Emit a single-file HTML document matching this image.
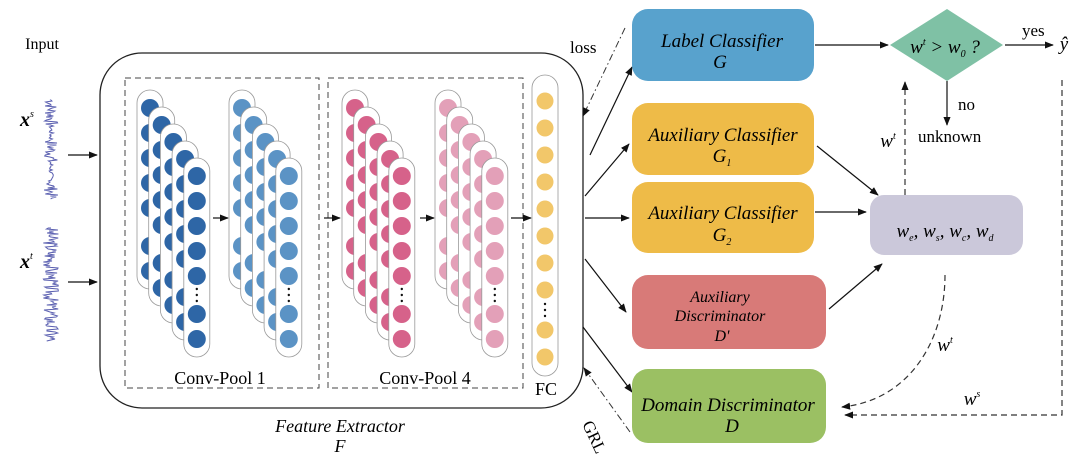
<!DOCTYPE html>
<html><head><meta charset="utf-8"><style>
html,body{margin:0;padding:0;background:#fff;}
svg{display:block;font-family:"Liberation Serif",serif;}
</style></head><body>
<svg id="s" width="1080" height="459" viewBox="0 0 1080 459" xmlns="http://www.w3.org/2000/svg">
<defs>
<marker id="a" viewBox="0 0 10 10" refX="9" refY="5" markerWidth="9" markerHeight="9" orient="auto" markerUnits="userSpaceOnUse"><path d="M0,1 L10,5 L0,9 z" fill="#111"/></marker>
</defs>
<rect x="100" y="53" width="483" height="355" rx="42" fill="none" stroke="#222" stroke-width="1.3"/>
<rect x="125" y="78" width="194" height="310" fill="none" stroke="#444" stroke-dasharray="6,4"/>
<rect x="328" y="78" width="195" height="310" fill="none" stroke="#444" stroke-dasharray="6,4"/>
<g id="caps"></g>
<text x="220" y="384" font-size="18" text-anchor="middle">Conv-Pool 1</text>
<text x="425" y="384" font-size="18" text-anchor="middle">Conv-Pool 4</text>
<text x="546" y="395" font-size="18" text-anchor="middle">FC</text>
<text x="340" y="432" font-size="18" font-style="italic" text-anchor="middle">Feature Extractor</text>
<text x="340" y="452" font-size="18" font-style="italic" text-anchor="middle">F</text>
<text x="42" y="49" font-size="16" text-anchor="middle">Input</text>
<text x="20" y="126" font-size="20" font-weight="bold" font-style="italic">x<tspan font-size="10" dy="-9" font-weight="normal">s</tspan></text>
<text x="20" y="268" font-size="20" font-weight="bold" font-style="italic">x<tspan font-size="10" dy="-9" font-weight="normal">t</tspan></text>
<g id="sig" stroke="#5a5fb0" stroke-width="1" fill="none"></g>
<g stroke="#111" stroke-width="1.2" fill="none" marker-end="url(#a)">
<line x1="68" y1="155" x2="97" y2="155"/>
<line x1="68" y1="282" x2="97" y2="282"/>
<line x1="213" y1="218" x2="228" y2="218"/>
<line x1="324" y1="218" x2="340" y2="218"/>
<line x1="420" y1="218" x2="434" y2="218"/>
<line x1="511" y1="218" x2="531" y2="218"/>
<line x1="590" y1="155" x2="632" y2="67"/>
<line x1="585" y1="196" x2="629" y2="144"/>
<line x1="585" y1="218" x2="629" y2="218"/>
<line x1="585" y1="259" x2="626" y2="312"/>
<line x1="583" y1="327" x2="632" y2="392"/>
<line x1="815" y1="45" x2="888" y2="45"/>
<line x1="1005" y1="45" x2="1053" y2="45"/>
<line x1="947" y1="81" x2="947" y2="125"/>
<line x1="817" y1="146" x2="878" y2="195"/>
<line x1="815" y1="212" x2="866" y2="212"/>
<line x1="829" y1="309" x2="882" y2="264"/>
</g>
<g stroke="#333" stroke-width="1" fill="none" stroke-dasharray="7,3,1.5,3" marker-end="url(#a)">
<line x1="625" y1="28" x2="583" y2="116"/>
<line x1="630" y1="432" x2="584" y2="368"/>
</g>
<g stroke="#333" stroke-width="1.2" fill="none" stroke-dasharray="6,4" marker-end="url(#a)">
<line x1="905" y1="195" x2="905" y2="82"/>
<path d="M945,275 C945,340 910,400 842,407"/>
<path d="M1062,80 L1062,415 L845,415"/>
</g>
<rect x="632" y="9" width="182" height="72" rx="16" fill="#58a2cd"/>
<rect x="632" y="103" width="182" height="72" rx="16" fill="#eebb48"/>
<rect x="632" y="182" width="182" height="71" rx="16" fill="#eebb48"/>
<rect x="632" y="275" width="194" height="74" rx="16" fill="#d87a78"/>
<rect x="632" y="369" width="194" height="74" rx="16" fill="#9bc063"/>
<rect x="870" y="195" width="153" height="60" rx="14" fill="#cbc8da"/>
<polygon points="890,45 947,9 1003,45 947,81" fill="#7fc1a5"/>
<g font-style="italic" font-size="19" text-anchor="middle">
<text x="722" y="47">Label Classifier</text><text x="720" y="68">G</text>
<text x="723" y="141">Auxiliary Classifier</text><text x="722" y="162">G<tspan font-size="10" dy="4">1</tspan></text>
<text x="723" y="219">Auxiliary Classifier</text><text x="722" y="241">G<tspan font-size="10" dy="4">2</tspan></text>
<text x="720" y="302" font-size="16">Auxiliary</text>
<text x="720" y="321" font-size="16">Discriminator</text>
<text x="722" y="341" font-size="16">D'</text>
<text x="728" y="411">Domain Discriminator</text><text x="732" y="432">D</text>
<text x="945" y="237" font-size="19">w<tspan font-size="10" dy="4">e</tspan><tspan dy="-4">, w</tspan><tspan font-size="10" dy="4">s</tspan><tspan dy="-4">, w</tspan><tspan font-size="10" dy="4">c</tspan><tspan dy="-4">, w</tspan><tspan font-size="10" dy="4">d</tspan></text>
<text x="945" y="53" font-size="19">w<tspan font-size="10" dy="-8">t</tspan><tspan dy="8"> &gt; w</tspan><tspan font-size="10" dy="4">0</tspan><tspan dy="-4"> ?</tspan></text>
<text x="888" y="147">w<tspan font-size="10" dy="-8">t</tspan></text>
<text x="945" y="351">w<tspan font-size="10" dy="-8">t</tspan></text>
<text x="972" y="405">w<tspan font-size="10" dy="-8">s</tspan></text>
<text x="1064" y="50">ŷ</text>
</g>
<g font-size="17">
<text x="1022" y="36">yes</text>
<text x="958" y="110">no</text>
<text x="918" y="142">unknown</text>
<text x="570" y="53">loss</text>
<text x="582" y="424" transform="rotate(65 582 424)">GRL</text>
</g>
</svg>
<script>
var NS="http://www.w3.org/2000/svg",g=document.getElementById("caps");
function el(t,a){var e=document.createElementNS(NS,t);for(var k in a)e.setAttribute(k,a[k]);g.appendChild(e);return e;}
var offs=[18,43,68,93,118,156,181];
function grp(x0,col){for(var i=0;i<5;i++){var x=x0+11.7*i,y=90+17*i;
el("rect",{x:x,y:y,width:26,height:199,rx:13,fill:"#fff",stroke:"#999","stroke-width":0.8});
offs.forEach(function(o){el("circle",{cx:x+13,cy:y+o,r:9,fill:col});});
for(var d=0;d<3;d++)el("circle",{cx:x+13,cy:y+131+d*6,r:1.2,fill:"#111"});}}
grp(137,"#2e66a6");grp(229,"#5b93c5");grp(342,"#d6628a");grp(435,"#e3a0b8");
el("rect",{x:532,y:75,width:26,height:301,rx:13,fill:"#fff",stroke:"#999","stroke-width":0.8});
[101,128,155,182,209,236,263,290,330,357].forEach(function(y){el("circle",{cx:545,cy:y,r:8.5,fill:"#f2c76a"});});
for(var d=0;d<3;d++)el("circle",{cx:545,cy:304+d*6,r:1.2,fill:"#111"});
var s=document.getElementById("sig");
function sig(y0,y1,amp,seed){var p="M51,"+y0,r=seed;for(var y=y0;y<y1;y+=1){r=(r*9301+49297)%233280;var a=(r/233280-0.5)*2*amp(y);p+=" L"+(51+a).toFixed(1)+","+y;}
var e=document.createElementNS(NS,"path");e.setAttribute("d",p);s.appendChild(e);}
sig(100,200,function(y){return (y<125||(y>140&&y<165)||y>182)?7:2.5;},7);
sig(228,342,function(y){return 8;},3);
</script>
</body></html>
